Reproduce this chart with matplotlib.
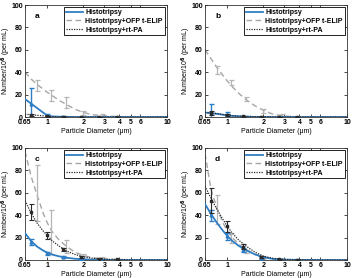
import matplotlib
matplotlib.use("Agg")
import matplotlib.pyplot as plt
from matplotlib.ticker import FixedLocator, FixedFormatter, NullLocator

plt.rcParams['font.family'] = ['Liberation Sans', 'DejaVu Sans']
plt.rcParams['font.weight'] = 'bold'

labels = ["Histotripsy", "Histotripsy+OFP t-ELIP", "Histotripsy+rt-PA"]
panels = ["a", "b", "c", "d"]

# fitted curves evaluated at these diameters (um)
x_curve = [0.65, 0.73, 0.82, 0.92, 1.0, 1.1, 1.25, 1.45, 1.7, 2.0, 2.4, 3.0, 4.0, 6.0, 10.0]

curve_histo = {
    "a": [16, 12, 8, 4, 1.2, 0.5, 0.3, 0.1, 0, 0, 0, 0, 0, 0, 0],
    "b": [4, 3.5, 2.8, 2, 1.5, 1, 0.6, 0.3, 0.1, 0, 0, 0, 0, 0, 0],
    "c": [24, 17, 12, 8.5, 6.5, 4.8, 3.3, 2, 1.1, 0.6, 0.3, 0.1, 0, 0, 0],
    "d": [50, 41, 33, 26, 21.5, 17, 12.5, 8.5, 5, 2.5, 1, 0.3, 0.1, 0, 0],
}
curve_elip = {
    "a": [40, 34, 29, 25, 22, 19, 15, 11, 7, 4, 2, 1, 0.3, 0, 0],
    "b": [60, 52, 44, 37, 32, 27, 21, 15, 10, 6, 2.5, 0.8, 0.2, 0, 0],
    "c": [97, 75, 58, 42, 33, 25, 18, 12, 7, 4, 2, 1, 0.4, 0.1, 0],
    "d": [95, 63, 46, 33, 26, 20, 14, 9, 5, 2.5, 1, 0.3, 0.1, 0, 0],
}
curve_rtpa = {
    "a": [2.5, 2, 1.5, 1, 0.7, 0.4, 0.2, 0.1, 0, 0, 0, 0, 0, 0, 0],
    "b": [4, 3.6, 3, 2.2, 1.6, 1.2, 0.8, 0.5, 0.3, 0.2, 0.1, 0, 0, 0, 0],
    "c": [53, 42, 33, 26, 22, 17, 12.5, 8, 5, 2.8, 1.5, 0.7, 0.3, 0.1, 0],
    "d": [66, 55, 45, 36, 30, 24, 17.5, 12, 7, 3.5, 1.5, 0.5, 0.2, 0, 0],
}

# measured bins (mean +/- sd)
bins_main = [0.73, 1.0, 1.35, 1.9, 2.7, 3.8]
bins_elip = [0.82, 1.08, 1.43, 1.97, 2.85]

mean_histo = {
    "a": [12, 1, 0.2, 0.1, 0, 0],
    "b": [4, 1.5, 0.5, 0.2, 0.1, 0],
    "c": [16, 6, 2.5, 0.6, 0.2, 0.1],
    "d": [40, 21, 9, 2, 0.5, 0.2],
}
err_histo = {
    "a": [14, 2, 0.3, 0.2, 0.1, 0.1],
    "b": [8, 3, 0.5, 0.2, 0.1, 0.1],
    "c": [2.5, 1.5, 0.7, 0.3, 0.2, 0.1],
    "d": [5, 3, 1.5, 0.7, 0.3, 0.1],
}
mean_rtpa = {
    "a": [2, 0.5, 0.3, 0.2, 0.1, 0.1],
    "b": [3.6, 1.5, 0.8, 0.3, 0.2, 0.1],
    "c": [43, 22, 9.5, 2.5, 1, 0.5],
    "d": [53, 30, 12, 3, 0.8, 0.4],
}
err_rtpa = {
    "a": [1, 0.5, 0.3, 0.2, 0.1, 0.1],
    "b": [1.5, 1, 0.4, 0.2, 0.1, 0.1],
    "c": [7, 3, 1.5, 1, 0.5, 0.3],
    "d": [11, 5, 2.5, 1, 0.4, 0.2],
}
mean_elip = {
    "a": [28, 19, 13, 3.5, 1.5],
    "b": [42, 31, 16, 5.5, 1.5],
    "c": [60, 25, 12, 3, 1.5],
    "d": [45, 20, 7.5, 1.5, 0.5],
}
err_elip = {
    "a": [5, 5, 5, 2, 1.5],
    "b": [3.5, 2, 1.5, 1.5, 1.5],
    "c": [25, 20, 6, 2, 1.5],
    "d": [13, 4.5, 1.5, 0.8, 0.3],
}

xticks = [0.65, 1, 2, 3, 4, 5, 6, 10]
xticklabels = ["0.65", "1", "2", "3", "4", "5", "6", "10"]
yticks = [0, 20, 40, 60, 80, 100]

W, H = 361, 278
fig = plt.figure(figsize=(W / 100, H / 100), dpi=100)

positions = {
    "a": (25, 5),
    "b": (205, 5),
    "c": (25, 148),
    "d": (205, 148),
}
aw, ah = 142, 112

BLUE = "#2f7ec4"
GRAY = "#a6a6a6"
BLACK = "#2a2a2a"

for p in panels:
    lx, ty = positions[p]
    ax = fig.add_axes([lx / W, 1 - (ty + ah) / H, aw / W, ah / H])
    ax.set_xscale("log")

    l1, = ax.plot(x_curve, curve_histo[p], color=BLUE, lw=1.3, ls="-", zorder=3)
    l2, = ax.plot(x_curve, curve_elip[p], color=GRAY, lw=1.0, ls=(0, (4, 2.5)), zorder=2)
    l3, = ax.plot(x_curve, curve_rtpa[p], color=BLACK, lw=0.9, ls=(0, (1, 1)), zorder=4)

    ax.errorbar(bins_elip, mean_elip[p], yerr=err_elip[p], fmt="none",
                ecolor="#b5b5b5", elinewidth=0.9, capsize=1.8, capthick=0.9, zorder=2)
    ax.errorbar(bins_main, mean_histo[p], yerr=err_histo[p], fmt="^",
                color=BLUE, ms=2, elinewidth=1.0, capsize=1.8, capthick=1.0, zorder=3)
    ax.errorbar(bins_main, mean_rtpa[p], yerr=err_rtpa[p], fmt="s",
                color=BLACK, ms=1.8, elinewidth=0.8, capsize=1.8, capthick=0.8, zorder=4)

    ax.set_xlim(0.65, 10)
    ax.set_ylim(0, 100)
    ax.xaxis.set_major_locator(FixedLocator(xticks))
    ax.xaxis.set_major_formatter(FixedFormatter(xticklabels))
    ax.xaxis.set_minor_locator(NullLocator())
    ax.set_yticks(yticks)
    ax.tick_params(axis="both", which="both", direction="in", length=2, width=0.5,
                   labelsize=5, pad=1.5, top=True, right=True)
    for s in ax.spines.values():
        s.set_linewidth(0.6)
        s.set_color("#333333")

    ax.set_xlabel("Particle Diameter (\u03bcm)", fontsize=5, labelpad=1.5)
    ax.set_ylabel("Number/10$^{\\mathbf{6}}$ (per mL)", fontsize=5)
    ax.yaxis.set_label_coords(-0.085, 0.5)
    ax.text(0.07, 0.88, p, transform=ax.transAxes, fontsize=6, fontweight="bold")

    leg = ax.legend([l1, l2, l3], labels, loc="upper right", fontsize=5,
                    frameon=True, fancybox=False, framealpha=1, edgecolor="black",
                    borderaxespad=0.35, borderpad=0.25, labelspacing=0.25,
                    handlelength=2.4, handletextpad=0.4)
    leg.get_frame().set_linewidth(0.6)

fig.savefig("out.png", dpi=100)
